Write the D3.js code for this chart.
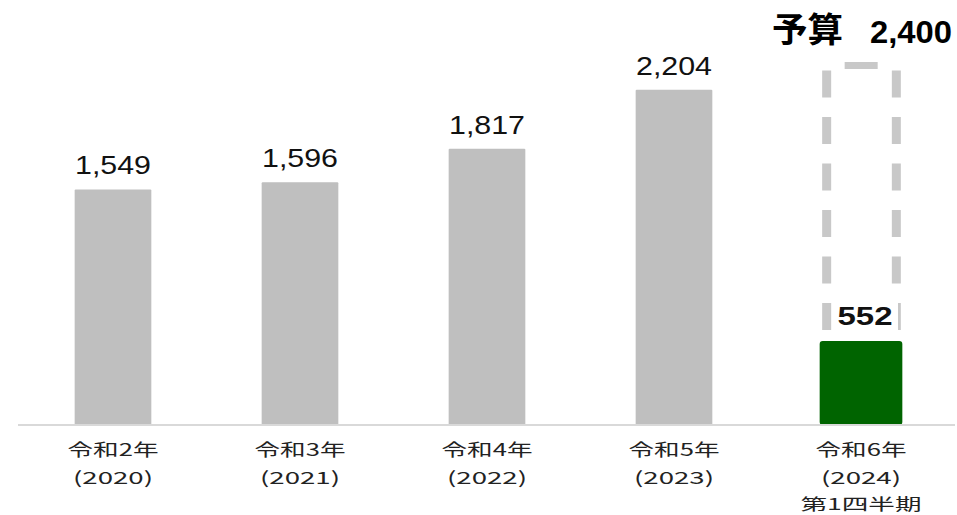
<!DOCTYPE html>
<html>
<head>
<meta charset="utf-8">
<script src="https://cdn.jsdelivr.net/npm/d3@7"></script>
<style>
  html, body { margin: 0; padding: 0; background: #ffffff; }
  svg { display: block; }
</style>
</head>
<body>
<svg id="chart" width="957" height="515"></svg>
<script>
// ---- data ----
const categories = ["令和2年", "令和3年", "令和4年", "令和5年", "令和6年"];
const yearLabels = ["(2020)", "(2021)", "(2022)", "(2023)", "(2024)"];
const noteLabels = ["", "", "", "", "第1四半期"];
const values = [1549, 1596, 1817, 2204, 552];
const budgetCategory = "令和6年";
const budgetValue = 2400;
const budgetTitle = "予算";
const highlightCategory = "令和6年";

// ---- layout ----
const W = 957, H = 515;
const baseY = 425;
const svg = d3.select("#chart");

const x = d3.scaleBand()
  .domain(categories)
  .range([19.5, 954.5])
  .paddingInner(0.59)
  .paddingOuter(0.295);

const y = d3.scaleLinear()
  .domain([0, budgetValue])
  .range([baseY, 60]);

const fmt = d3.format(",");
const grey = "#bfbfbf";
const green = "#006400";
const dashGrey = "#c8c8c8";

const data = categories.map((c, i) => ({ c, v: values[i], year: yearLabels[i], note: noteLabels[i] }));

// ---- budget dashed outline ----
const bx = x(budgetCategory);
const bw = x.bandwidth();
const bLeft = bx + 4;
const bRight = bx + bw - 4;
const bTop = y(budgetValue);
const dashG = svg.append("g");
[bLeft, bRight + 1].forEach(xx => {
  dashG.append("line")
    .attr("x1", xx).attr("x2", xx)
    .attr("y1", bTop + 10.5).attr("y2", baseY)
    .attr("stroke", dashGrey)
    .attr("stroke-width", 9)
    .attr("stroke-dasharray", "27 19.5");
});
dashG.append("line")
  .attr("x1", bLeft + 18).attr("x2", bLeft + 51)
  .attr("y1", bTop + 5.5).attr("y2", bTop + 5.5)
  .attr("stroke", dashGrey)
  .attr("stroke-width", 7);

// ---- bars ----
svg.append("g").selectAll("rect")
  .data(data)
  .join("rect")
  .attr("x", d => d.c === highlightCategory ? x(d.c) - 3 : x(d.c))
  .attr("width", d => d.c === highlightCategory ? x.bandwidth() + 6 : x.bandwidth())
  .attr("y", d => y(d.v))
  .attr("height", d => baseY - y(d.v))
  .attr("rx", d => d.c === highlightCategory ? 3 : 1)
  .attr("fill", d => d.c === highlightCategory ? green : grey);

// ---- axis ----
const axis = d3.axisBottom(x).tickSize(0).tickSizeOuter(0).tickFormat("");
const ax = svg.append("g").attr("transform", `translate(0,${baseY})`).call(axis);
ax.select(".domain")
  .attr("d", `M18,0H955`)
  .attr("stroke", "#d9d9d9")
  .attr("stroke-width", 2);

const labG = svg.append("g")
  .attr("font-family", "'Noto Sans CJK JP', 'Noto Sans', sans-serif")
  .attr("font-size", 17)
  .attr("fill", "#222");
data.forEach(d => {
  const cx = x(d.c) + x.bandwidth() / 2;
  labG.append("text").attr("x", cx).attr("y", 456)
    .attr("text-anchor", "middle")
    .attr("textLength", 91).attr("lengthAdjust", "spacingAndGlyphs")
    .text(d.c);
  labG.append("text").attr("x", cx).attr("y", 484)
    .attr("text-anchor", "middle")
    .attr("textLength", 80).attr("lengthAdjust", "spacingAndGlyphs")
    .text(d.year);
  if (d.note) {
    labG.append("text").attr("x", cx).attr("y", 510)
      .attr("text-anchor", "middle")
      .attr("font-size", 16)
      .attr("textLength", 121).attr("lengthAdjust", "spacingAndGlyphs")
      .text(d.note);
  }
});

// ---- value labels ----
const valG = svg.append("g")
  .attr("font-family", "'Liberation Sans', Arial, sans-serif")
  .attr("fill", "#111");
data.forEach(d => {
  const cx = x(d.c) + x.bandwidth() / 2;
  if (d.c === highlightCategory) {
    const ly = y(d.v) - 16;
    valG.append("rect")
      .attr("x", cx - 29).attr("y", ly - 25)
      .attr("width", 66).attr("height", 32)
      .attr("fill", "#ffffff");
    valG.append("text")
      .attr("x", cx + 4).attr("y", ly)
      .attr("text-anchor", "middle")
      .attr("font-size", 25).attr("font-weight", "bold")
      .attr("textLength", 55).attr("lengthAdjust", "spacingAndGlyphs")
      .text(fmt(d.v));
  } else {
    valG.append("text")
      .attr("x", cx).attr("y", y(d.v) - 15)
      .attr("text-anchor", "middle")
      .attr("font-size", 26)
      .attr("textLength", 76).attr("lengthAdjust", "spacingAndGlyphs")
      .text(fmt(d.v));
  }
});

// ---- budget title ----
const tG = svg.append("g").attr("fill", "#000").attr("font-weight", "bold");
tG.append("text")
  .attr("x", 772).attr("y", 42)
  .attr("font-family", "'Noto Sans CJK JP', sans-serif")
  .attr("font-size", 34)
  .attr("textLength", 71).attr("lengthAdjust", "spacingAndGlyphs")
  .text(budgetTitle);
tG.append("text")
  .attr("x", 952).attr("y", 43)
  .attr("text-anchor", "end")
  .attr("font-family", "'Liberation Sans', Arial, sans-serif")
  .attr("font-size", 31)
  .attr("textLength", 82).attr("lengthAdjust", "spacingAndGlyphs")
  .text(fmt(budgetValue));
</script>
</body>
</html>
